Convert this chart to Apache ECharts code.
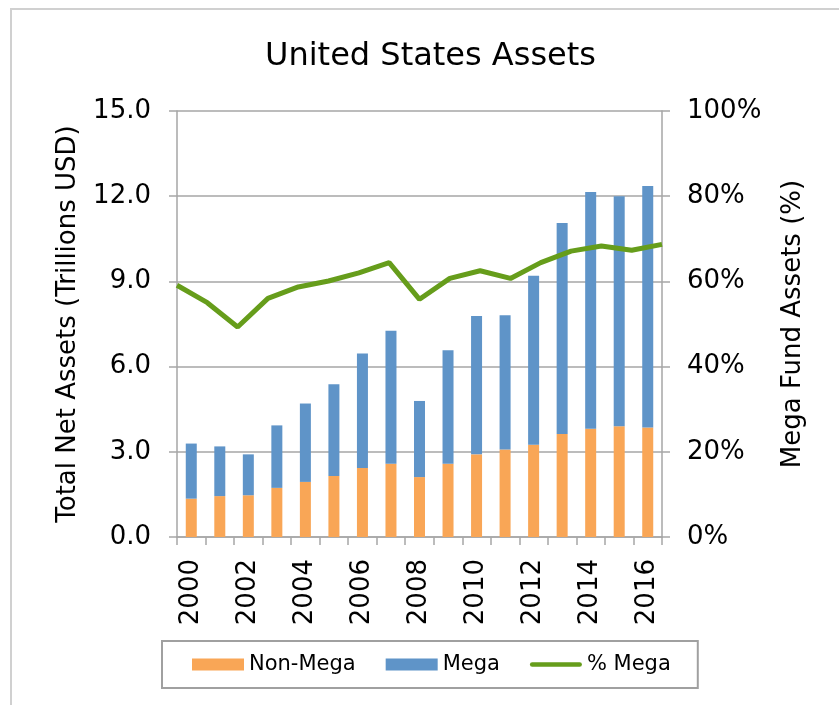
<!DOCTYPE html>
<html>
<head>
<meta charset="utf-8">
<script src="https://cdn.jsdelivr.net/npm/echarts@6/dist/echarts.min.js"></script>
<style>
  html, body { margin: 0; padding: 0; background: #fff; }
  #chart { width: 839px; height: 705px; }
</style>
</head>
<body>
<div id="chart"></div>
<script>
const years = ["2000", "2001", "2002", "2003", "2004", "2005", "2006", "2007", "2008",
  "2009", "2010", "2011", "2012", "2013", "2014", "2015", "2016"];
// trillions USD
const nonMega = [1.35, 1.44, 1.47, 1.73, 1.94, 2.15, 2.43, 2.58, 2.11, 2.58, 2.91, 3.08, 3.25, 3.63, 3.81, 3.90, 3.86];
const mega = [1.94, 1.75, 1.44, 2.20, 2.76, 3.23, 4.03, 4.68, 2.68, 4.00, 4.87, 4.73, 5.95, 7.43, 8.34, 8.10, 8.50];
// share of mega funds, percent
const pctMega = [59.1, 55.0, 49.3, 56.0, 58.7, 60.1, 62.0, 64.4, 55.8, 60.7, 62.5, 60.7, 64.4, 67.1, 68.3, 67.3, 68.7];

const FONT = "DejaVu Sans";
const GRID_GRAY = "#a6a6a6";
const ORANGE = "#f9a656";
const BLUE = "#5f94c8";
const GREEN = "#669d1b";

const chart = echarts.init(document.getElementById("chart"));

const option = {
  animation: false,
  textStyle: { fontFamily: FONT, color: "#000" },
  title: {
    text: "United States Assets",
    left: 260,
    top: 36,
    textStyle: { fontFamily: FONT, fontSize: 32, fontWeight: "normal", color: "#000" },
  },
  graphic: [
    {
      type: "rect",
      z: -1,
      shape: { x: 11, y: 9, width: 1000, height: 1000 },
      style: { fill: "none", stroke: "#d0d0d0", lineWidth: 2 },
    },
  ],
  legend: {
    left: 162,
    top: 641,
    padding: [13, 27, 13, 30],
    itemGap: 30,
    itemWidth: 52,
    itemHeight: 12,
    borderColor: "#a0a0a0",
    borderWidth: 2,
    textStyle: { fontFamily: FONT, fontSize: 21, color: "#000" },
    data: [
      { name: "Non-Mega", icon: "rect" },
      { name: "Mega", icon: "rect" },
      {
        name: "% Mega",
        icon: "path://M2.5,0 H54.5 A2.5,2.5 0 0 1 54.5,5 H2.5 A2.5,2.5 0 0 1 2.5,0 Z",
        itemStyle: { color: GREEN },
      },
    ],
  },
  grid: { left: 177, right: 177, top: 111, bottom: 168 },
  xAxis: [
    {
      type: "category",
      data: years,
      boundaryGap: true,
      axisLine: { lineStyle: { color: GRID_GRAY, width: 1.5 } },
      axisTick: { show: true, interval: 0, length: 8, lineStyle: { color: GRID_GRAY, width: 1.5 } },
      axisLabel: {
        interval: 1,
        rotate: 90,
        margin: 22,
        fontFamily: FONT,
        fontSize: 26,
        color: "#000",
      },
    },
    {
      type: "category",
      data: years,
      boundaryGap: false,
      show: false,
    },
  ],
  yAxis: [
    {
      type: "value",
      min: 0,
      max: 15,
      interval: 3,
      name: "Total Net Assets (Trillions USD)",
      nameLocation: "middle",
      nameRotate: 90,
      nameGap: 96,
      nameTextStyle: { fontFamily: FONT, fontSize: 26, color: "#000" },
      axisLine: { show: true, lineStyle: { color: GRID_GRAY, width: 1.5 } },
      axisTick: { show: true, length: 8, lineStyle: { color: GRID_GRAY, width: 1.5 } },
      axisLabel: {
        margin: 26,
        fontFamily: FONT,
        fontSize: 26,
        color: "#000",
        formatter: (v) => v.toFixed(1),
      },
      splitLine: { show: true, lineStyle: { color: GRID_GRAY, width: 1.5 } },
    },
    {
      type: "value",
      min: 0,
      max: 100,
      interval: 20,
      position: "right",
      name: "Mega Fund Assets (%)",
      nameLocation: "middle",
      nameRotate: 90,
      nameGap: 118,
      nameTextStyle: { fontFamily: FONT, fontSize: 26, color: "#000" },
      axisLine: { show: true, lineStyle: { color: GRID_GRAY, width: 1.5 } },
      axisTick: { show: true, length: 8, lineStyle: { color: GRID_GRAY, width: 1.5 } },
      axisLabel: {
        margin: 25,
        fontFamily: FONT,
        fontSize: 26,
        color: "#000",
        formatter: "{value}%",
      },
      splitLine: { show: false },
    },
  ],
  series: [
    {
      name: "Non-Mega",
      type: "bar",
      stack: "assets",
      xAxisIndex: 0,
      yAxisIndex: 0,
      barWidth: 11,
      itemStyle: { color: ORANGE },
      data: nonMega,
    },
    {
      name: "Mega",
      type: "bar",
      stack: "assets",
      xAxisIndex: 0,
      yAxisIndex: 0,
      barWidth: 11,
      itemStyle: { color: BLUE },
      data: mega,
    },
    {
      name: "% Mega",
      type: "line",
      xAxisIndex: 1,
      yAxisIndex: 1,
      symbol: "none",
      lineStyle: { color: GREEN, width: 5 },
      itemStyle: { color: GREEN },
      data: pctMega,
    },
  ],
};

chart.setOption(option);
</script>
</body>
</html>
